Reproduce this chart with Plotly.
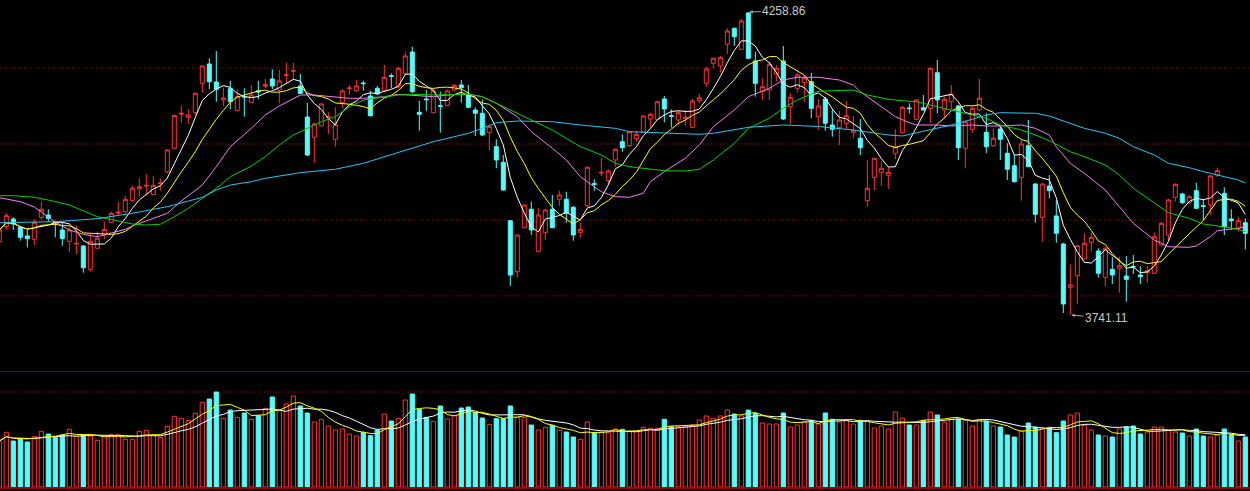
import pandas as pd
import plotly.graph_objects as go

# ---------------- data ----------------
opens = [
    3866.4, 3892.0, 3905.1, 3891.0, 3876.1, 3870.5, 3908.0, 3912.0, 3900.0, 3886.4,
    3867.0, 3862.4, 3859.0, 3819.2, 3855.1, 3877.8, 3899.5, 3914.9, 3917.6, 3936.4,
    3956.9, 3961.5, 3946.7, 3965.6, 3985.5, 4026.0, 4084.1, 4078.9, 4086.8, 4137.0,
    4170.0, 4139.3, 4108.5, 4127.8, 4090.9, 4114.6, 4104.6, 4124.4, 4131.9, 4144.4,
    4125.6, 4150.7, 4157.5, 4132.4, 4079.4, 4044.8, 4064.6, 4078.9, 4041.3, 4104.0,
    4128.0, 4124.4, 4137.5, 4115.3, 4128.5, 4124.4, 4150.0, 4131.2, 4154.1, 4190.5,
    4087.5, 4110.2, 4086.8, 4098.7, 4099.4, 4125.6, 4134.1, 4117.0, 4091.4, 4085.8,
    4052.6, 4028.7, 4002.0, 3902.2, 3815.1, 3890.3, 3921.7, 3849.3, 3881.7, 3921.7,
    3938.8, 3938.8, 3925.1, 3882.4, 3927.9, 3965.5, 3983.7, 3970.6, 4006.0, 4037.2,
    4030.4, 4042.4, 4053.3, 4076.0, 4075.5, 4110.2, 4081.7, 4074.3, 4077.2, 4061.8,
    4107.3, 4137.0, 4171.2, 4166.6, 4203.7, 4231.0, 4195.1, 4257.2, 4175.1, 4122.7,
    4125.6, 4152.9, 4175.1, 4097.0, 4128.5, 4138.1, 4139.8, 4080.0, 4110.2, 4065.8,
    4061.2, 4068.7, 4053.3, 4043.1, 3936.4, 3976.4, 3984.9, 3979.8, 4017.4, 4052.6,
    4094.8, 4075.5, 4095.3, 4094.3, 4155.1, 4091.4, 4105.6, 4098.2, 4026.0, 4058.4,
    4091.4, 4053.3, 4030.4, 4058.9, 4017.4, 3996.2, 3976.4, 4030.4, 3965.0, 3908.0,
    3961.5, 3910.3, 3862.4, 3788.4, 3808.3, 3836.8, 3865.3, 3850.5, 3805.5, 3819.2,
    3820.9, 3807.7, 3824.1, 3809.5, 3813.4, 3812.4, 3860.7, 3877.8, 3942.2, 3947.9,
    3933.0, 3953.5, 3927.9, 3929.1, 3980.3, 3949.1, 3905.1, 3889.3, 3898.8,
]
highs = [
    3889.8, 3914.9, 3908.0, 3893.2, 3886.4, 3904.6, 3934.7, 3921.7, 3902.2, 3898.8,
    3892.0, 3894.4, 3860.7, 3880.7, 3883.4, 3900.5, 3917.6, 3934.2, 3944.4, 3962.0,
    3974.7, 3982.0, 3978.6, 3974.7, 4024.8, 4082.9, 4098.2, 4093.1, 4121.0, 4168.3,
    4179.8, 4192.2, 4130.2, 4141.0, 4126.8, 4128.5, 4134.1, 4141.5, 4144.4, 4161.0,
    4159.8, 4172.2, 4172.2, 4152.9, 4104.0, 4069.7, 4102.9, 4087.5, 4096.0, 4126.8,
    4134.1, 4142.7, 4141.5, 4124.4, 4132.4, 4168.3, 4154.1, 4165.4, 4191.0, 4199.6,
    4106.8, 4125.6, 4128.5, 4122.7, 4126.8, 4135.8, 4142.7, 4134.1, 4096.0, 4109.7,
    4064.1, 4041.3, 4014.5, 3903.4, 3878.7, 3930.8, 3934.7, 3923.4, 3921.7, 3946.2,
    3953.5, 3951.8, 3927.4, 3898.8, 3994.5, 3973.0, 4009.9, 3990.1, 4026.0, 4049.9,
    4055.5, 4056.0, 4082.9, 4086.8, 4107.3, 4115.3, 4092.6, 4091.4, 4091.4, 4110.7,
    4118.7, 4165.4, 4180.8, 4183.7, 4231.0, 4232.0, 4246.9, 4258.86, 4191.0, 4145.6,
    4173.9, 4168.3, 4200.8, 4119.9, 4155.1, 4151.2, 4155.1, 4109.7, 4114.1, 4091.4,
    4089.7, 4106.8, 4081.1, 4076.0, 4006.0, 4009.4, 4003.1, 3994.5, 4058.4, 4098.2,
    4102.9, 4109.7, 4117.0, 4164.4, 4176.8, 4114.1, 4134.1, 4099.9, 4073.1, 4098.2,
    4144.4, 4085.8, 4060.1, 4062.9, 4034.5, 4014.5, 4040.1, 4074.3, 3966.2, 3966.2,
    3979.9, 3937.6, 3864.7, 3827.7, 3860.7, 3880.7, 3881.7, 3855.1, 3856.8, 3839.7,
    3840.7, 3841.9, 3843.6, 3824.5, 3824.5, 3882.4, 3900.5, 3939.3, 3966.2, 3950.1,
    3946.2, 3967.2, 3938.8, 3980.3, 3992.8, 3959.3, 3921.7, 3909.0, 3906.3,
]
lows = [
    3864.1, 3886.4, 3886.4, 3868.1, 3856.8, 3860.7, 3903.4, 3900.5, 3873.9, 3859.5,
    3848.2, 3845.3, 3813.4, 3815.1, 3854.8, 3870.5, 3898.8, 3910.3, 3914.9, 3934.7,
    3943.2, 3946.2, 3946.2, 3953.5, 3983.2, 4024.8, 4069.7, 4067.5, 4082.9, 4121.0,
    4126.8, 4105.6, 4098.2, 4092.6, 4090.2, 4080.0, 4104.0, 4110.2, 4128.5, 4126.8,
    4102.9, 4137.0, 4142.7, 4118.7, 4012.8, 4001.4, 4062.9, 4050.4, 4028.7, 4094.3,
    4117.0, 4122.7, 4124.4, 4080.0, 4117.0, 4122.7, 4128.5, 4128.5, 4151.2, 4119.9,
    4056.0, 4090.2, 4085.8, 4052.6, 4098.2, 4122.7, 4104.0, 4094.3, 4047.0, 4047.0,
    4021.9, 3991.8, 3953.5, 3790.7, 3804.8, 3889.3, 3877.8, 3848.8, 3869.3, 3889.3,
    3927.4, 3898.8, 3868.1, 3873.2, 3926.2, 3953.5, 3978.6, 3963.2, 3994.5, 4020.1,
    4028.7, 4037.2, 4052.6, 4061.2, 4074.3, 4070.4, 4061.2, 4065.8, 4064.1, 4061.2,
    4102.9, 4131.2, 4162.7, 4155.1, 4187.1, 4201.3, 4193.9, 4178.0, 4114.1, 4108.5,
    4108.5, 4139.8, 4074.3, 4067.5, 4121.0, 4105.6, 4077.2, 4057.2, 4056.0, 4045.8,
    4031.6, 4058.4, 4043.1, 4014.5, 3926.2, 3954.7, 3962.0, 3956.4, 4007.2, 4051.6,
    4085.8, 4074.3, 4091.0, 4069.7, 4085.8, 4077.2, 4092.6, 4006.0, 3991.8, 4052.6,
    4089.7, 4017.4, 4028.7, 4006.0, 3971.8, 3967.2, 3936.4, 3994.0, 3898.8, 3866.4,
    3940.5, 3864.7, 3744.5, 3741.11, 3759.9, 3836.3, 3849.3, 3804.8, 3789.5, 3794.1,
    3779.2, 3763.8, 3811.2, 3794.1, 3796.3, 3811.2, 3859.5, 3868.1, 3934.7, 3930.8,
    3930.8, 3921.7, 3903.4, 3912.0, 3976.9, 3877.8, 3886.4, 3883.4, 3853.4,
]
closes = [
    3886.4, 3910.8, 3896.6, 3873.9, 3871.5, 3899.5, 3921.7, 3906.3, 3898.3, 3871.5,
    3886.4, 3863.5, 3821.9, 3867.0, 3872.2, 3887.5, 3914.9, 3917.1, 3938.8, 3957.6,
    3960.3, 3962.6, 3962.7, 3966.7, 4023.1, 4082.3, 4085.8, 4082.9, 4119.9, 4166.6,
    4139.8, 4126.8, 4111.9, 4105.6, 4114.1, 4113.6, 4117.0, 4122.2, 4135.3, 4132.4,
    4141.0, 4151.7, 4158.6, 4119.9, 4014.5, 4067.5, 4101.7, 4080.3, 4066.3, 4123.9,
    4129.0, 4132.4, 4136.5, 4081.7, 4118.7, 4147.3, 4149.0, 4162.7, 4183.7, 4122.7,
    4084.1, 4109.0, 4124.4, 4097.7, 4123.9, 4133.6, 4129.5, 4096.0, 4085.8, 4048.7,
    4062.9, 4006.0, 3954.7, 3809.5, 3877.8, 3929.1, 3886.4, 3912.0, 3920.5, 3890.3,
    3946.2, 3914.9, 3877.8, 3887.5, 3993.5, 3964.4, 3984.8, 3987.2, 4024.3, 4027.0,
    4054.3, 4049.9, 4081.1, 4084.1, 4105.6, 4093.1, 4080.6, 4086.8, 4078.8, 4106.8,
    4112.4, 4161.5, 4179.8, 4180.8, 4226.4, 4216.7, 4243.5, 4179.8, 4137.0, 4131.2,
    4169.5, 4162.7, 4076.0, 4113.1, 4151.2, 4146.1, 4094.3, 4098.2, 4068.7, 4058.4,
    4074.3, 4081.7, 4057.2, 4027.0, 3957.6, 4008.9, 3991.8, 3984.9, 4028.7, 4096.0,
    4093.8, 4108.5, 4091.4, 4162.7, 4108.5, 4109.7, 4118.7, 4027.0, 4071.4, 4094.3,
    4111.4, 4028.7, 4043.1, 4041.3, 3990.1, 3968.9, 4033.3, 3994.5, 3913.2, 3965.0,
    3953.5, 3880.7, 3759.9, 3792.4, 3859.5, 3863.6, 3873.9, 3812.4, 3855.1, 3809.5,
    3825.3, 3802.1, 3823.1, 3806.5, 3816.8, 3874.9, 3897.8, 3937.6, 3964.4, 3933.0,
    3943.2, 3923.4, 3926.9, 3978.6, 3987.7, 3892.0, 3902.2, 3902.2, 3880.7,
]
volumes = [
    1380, 1640, 1380, 1460, 1350, 1510, 1670, 1590, 1490, 1560,
    1730, 1510, 1560, 1530, 1400, 1530, 1570, 1580, 1430, 1430,
    1670, 1700, 1560, 1490, 1820, 2120, 2060, 2000, 2210, 2540,
    2640, 2850, 2060, 2310, 2090, 2220, 2030, 2140, 2360, 2700,
    2300, 2490, 2730, 2430, 2220, 1950, 2030, 1830, 1710, 1740,
    1590, 1530, 1640, 1540, 1710, 2190, 1980, 2060, 2610, 2790,
    2330, 2090, 1970, 2430, 2040, 2140, 2370, 2400, 2230, 2070,
    1880, 2050, 2050, 2430, 2080, 2080, 1860, 1710, 1790, 1850,
    1710, 1650, 1500, 1430, 1950, 1630, 1650, 1630, 1740, 1730,
    1660, 1660, 1790, 1760, 1760, 2030, 1810, 1820, 1830, 1860,
    2010, 2130, 2060, 2130, 2310, 2190, 2130, 2310, 2210, 1920,
    1890, 1890, 2220, 1800, 1860, 1960, 1990, 1890, 2220, 2030,
    1950, 2010, 1890, 2000, 1970, 1770, 1830, 1740, 2250, 2070,
    1860, 1860, 1990, 2250, 2160, 1950, 2030, 2030, 2000, 1830,
    2030, 1980, 1830, 1800, 1560, 1500, 1680, 1920, 1800, 1780,
    1770, 1630, 1980, 2160, 2220, 1850, 1710, 1560, 1530, 1500,
    1740, 1800, 1830, 1590, 1650, 1800, 1800, 1710, 1650, 1620,
    1530, 1740, 1530, 1500, 1560, 1740, 1560, 1380, 1500,
]

# slower moving averages at sample days
ma20_idx = [0, 3, 5, 7, 8, 10, 12, 14, 16, 18, 19, 21, 24, 26, 29, 31, 33, 36, 38, 40,
            42, 43, 45, 48, 50, 52, 55, 57, 60, 62, 64, 67, 69, 71, 74, 76, 79, 81, 83, 86,
            88, 90, 92, 93, 95, 98, 100, 102, 105, 107, 110, 112, 114, 117, 120, 122, 123, 126, 128, 130,
            131, 134, 136, 139, 141, 143, 146, 148, 150, 151, 153, 155, 158, 160, 162, 165, 167, 170, 171, 173,
            174, 177, 178]
ma20_val = [3941.5, 3934.7, 3925.6, 3908.6, 3900.0, 3886.4, 3879.0, 3874.9, 3880.7, 3887.5,
            3893.2, 3902.2, 3914.9, 3935.9, 3963.2, 3994.5, 4028.7, 4060.1, 4082.9, 4098.2,
            4111.4, 4117.0, 4117.0, 4114.1, 4111.4, 4111.4, 4114.1, 4118.2, 4116.2, 4114.1,
            4117.0, 4118.7, 4114.1, 4102.9, 4080.0, 4054.3, 4026.0, 4006.0, 3977.4, 3951.8,
            3943.3, 3942.2, 3949.1, 3968.9, 3986.0, 4008.9, 4031.6, 4062.9, 4091.4, 4114.1,
            4128.5, 4142.7, 4147.3, 4147.3, 4142.7, 4134.1, 4122.7, 4097.0, 4080.0, 4069.7,
            4065.8, 4065.8, 4064.1, 4065.8, 4064.1, 4064.1, 4065.8, 4060.1, 4048.7, 4028.7,
            4000.3, 3983.2, 3954.7, 3926.2, 3897.8, 3869.3, 3857.8, 3856.8, 3859.0, 3874.9,
            3885.2, 3889.3, 3892.0]
ma30_idx = [0, 2, 5, 7, 10, 12, 14, 17, 19, 21, 23, 25, 27, 29, 31, 33, 36, 38, 40, 42,
            44, 46, 48, 50, 52, 55, 57, 60, 62, 67, 69, 71, 73, 76, 79, 81, 83, 86, 88, 90,
            93, 95, 98, 100, 102, 105, 107, 110, 112, 114, 117, 122, 124, 127, 129, 131, 134, 136, 139, 141,
            143, 146, 148, 150, 153, 155, 158, 160, 162, 165, 167, 170, 172, 174, 177, 178]
ma30_val = [3945.0, 3945.0, 3942.2, 3937.6, 3929.1, 3918.8, 3909.1, 3901.7, 3896.6, 3894.9,
            3896.1, 3909.1, 3923.4, 3940.5, 3957.6, 3977.4, 3995.7, 4011.6, 4031.6, 4048.7,
            4060.1, 4071.4, 4080.0, 4097.0, 4108.5, 4114.1, 4117.0, 4118.2, 4117.0, 4118.2,
            4114.1, 4102.9, 4091.4, 4074.3, 4057.2, 4043.0, 4028.7, 4014.5, 4000.3, 3994.5,
            3990.6, 3987.7, 3987.2, 3990.1, 4006.0, 4034.5, 4060.1, 4077.2, 4094.3, 4108.5,
            4123.5, 4125.6, 4117.0, 4109.7, 4107.3, 4105.6, 4097.0, 4091.4, 4084.1, 4077.2,
            4065.8, 4057.2, 4048.7, 4038.9, 4020.1, 4011.6, 3997.4, 3980.3, 3957.6, 3932.0,
            3915.9, 3906.3, 3896.6, 3893.2, 3887.5, 3883.4]
ma60_idx = [0, 8, 14, 19, 24, 29, 31, 33, 36, 38, 43, 48, 52, 57, 60, 62, 67, 69, 71, 74,
            79, 83, 88, 90, 95, 100, 102, 105, 107, 112, 117, 122, 127, 129, 131, 134, 136, 139, 141, 143,
            148, 150, 153, 155, 158, 160, 162, 165, 167, 170, 172, 174, 177, 178]
ma60_val = [3898.8, 3900.5, 3905.7, 3914.9, 3926.2, 3942.2, 3954.7, 3963.2, 3968.9, 3974.7,
            3984.3, 3990.1, 4000.3, 4019.6, 4029.9, 4037.2, 4051.6, 4060.1, 4069.7, 4072.6,
            4071.4, 4065.8, 4060.1, 4054.3, 4052.6, 4049.9, 4051.6, 4057.2, 4061.8, 4065.8,
            4063.2, 4057.2, 4048.7, 4047.0, 4052.6, 4060.1, 4065.8, 4075.5, 4082.9, 4086.8,
            4085.8, 4081.1, 4068.7, 4060.1, 4051.6, 4043.0, 4028.7, 4014.5, 4000.3, 3992.8,
            3986.0, 3980.3, 3971.8, 3966.7]

price_grid = [3773.6, 3903.4, 4033.3, 4163.2]
vol_grid_main = [2850]
vol_grid_faint = [1440]

# ---------------- styling ----------------
RED = '#ff3232'
CYAN = '#54fcfc'
GRID = '#a00000'
DOTS = '1px,2px'
H = 491
W = 1250

days = list(range(len(closes)))
cl = pd.Series(closes)
ma5 = cl.rolling(5, min_periods=1).mean()
ma10 = cl.rolling(10, min_periods=1).mean()
vs = pd.Series(volumes)
vma5 = vs.rolling(5, min_periods=1).mean()
vma10 = vs.rolling(10, min_periods=1).mean()
up = [c >= o for o, c in zip(opens, closes)]

fig = go.Figure()
fig.add_trace(go.Candlestick(
    x=days, open=opens, high=highs, low=lows, close=closes,
    xaxis='x', yaxis='y', whiskerwidth=0, hoverinfo='skip',
    increasing=dict(line=dict(color=RED, width=1), fillcolor='#000000'),
    decreasing=dict(line=dict(color=CYAN, width=1), fillcolor=CYAN),
))
for xs, ys, col in [(days, ma5, '#ffffff'), (days, ma10, '#ffff00'),
                    (ma20_idx, ma20_val, '#f080f0'), (ma30_idx, ma30_val, '#00d000'),
                    (ma60_idx, ma60_val, '#22c8f0')]:
    fig.add_trace(go.Scatter(x=xs, y=ys, mode='lines', xaxis='x', yaxis='y',
                             line=dict(color=col, width=1), hoverinfo='skip'))

fig.add_trace(go.Bar(
    x=days, y=volumes, xaxis='x2', yaxis='y2', width=0.6, hoverinfo='skip',
    marker=dict(color=['#000000' if u else CYAN for u in up],
                line=dict(color=[RED if u else CYAN for u in up], width=1)),
))
fig.add_trace(go.Scatter(x=days, y=vma10, mode='lines', xaxis='x2', yaxis='y2',
                         line=dict(color='#ffffff', width=1), hoverinfo='skip'))
fig.add_trace(go.Scatter(x=days, y=vma5, mode='lines', xaxis='x2', yaxis='y2',
                         line=dict(color='#ffff00', width=1), hoverinfo='skip'))

xr = [0.1, 0.1 + W / 7.0]
shapes = [
    dict(type='line', xref='paper', yref='paper', x0=0, x1=1, y0=1 - 371.5 / H, y1=1 - 371.5 / H,
         line=dict(color='#7a0000', width=1)),
    dict(type='line', xref='paper', yref='paper', x0=0, x1=1, y0=1 - 488 / H, y1=1 - 488 / H,
         line=dict(color='#a00000', width=2)),
]
for v in price_grid:
    shapes.append(dict(type='line', xref='paper', yref='y', x0=0, x1=1, y0=v, y1=v,
                       line=dict(color=GRID, width=1, dash=DOTS), layer='below'))
for v in vol_grid_main:
    shapes.append(dict(type='line', xref='paper', yref='y2', x0=0, x1=1, y0=v, y1=v,
                       line=dict(color=GRID, width=1, dash=DOTS), layer='below'))
for v in vol_grid_faint:
    shapes.append(dict(type='line', xref='paper', yref='y2', x0=0, x1=1, y0=v, y1=v,
                       line=dict(color='#3a0000', width=1, dash=DOTS), layer='below'))

ann_font = dict(family='Arial, Liberation Sans, sans-serif', size=12, color='#c8c8c8')
hi_i = highs.index(max(highs))
lo_i = lows.index(min(lows))
annotations = [
    dict(x=hi_i, y=highs[hi_i], xref='x', yref='y', text=f"{highs[hi_i]:.2f}",
         showarrow=True, ax=36, ay=-1, arrowhead=2, arrowsize=0.7, arrowwidth=1,
         arrowcolor='#a8a8a8', standoff=1, font=ann_font),
    dict(x=lo_i, y=lows[lo_i], xref='x', yref='y', text=f"{lows[lo_i]:.2f}",
         showarrow=True, ax=36, ay=3, arrowhead=2, arrowsize=0.7, arrowwidth=1,
         arrowcolor='#a8a8a8', standoff=1, font=ann_font),
]

fig.update_layout(
    width=W, height=H, margin=dict(l=0, r=0, t=0, b=0),
    paper_bgcolor='#000000', plot_bgcolor='#000000', showlegend=False,
    boxgap=0.18, boxgroupgap=0.3, hovermode=False,
    xaxis=dict(range=xr, visible=False, rangeslider=dict(visible=False), anchor='y', fixedrange=True),
    xaxis2=dict(range=xr, visible=False, anchor='y2', matches='x'),
    yaxis=dict(domain=[1 - 371 / H, 1], range=[3645.41, 4279.37], showgrid=False,
               showticklabels=False, zeroline=False, showline=False, ticks=''),
    yaxis2=dict(domain=[1 - 487 / H, 1 - 372 / H], range=[0, 3450], showgrid=False,
                showticklabels=False, zeroline=False, showline=False, ticks=''),
    shapes=shapes, annotations=annotations,
)

fig.write_html("out.html", config={'displayModeBar': False, 'staticPlot': True},
               post_script="document.body.style.margin='0';document.body.style.overflow='hidden';")
